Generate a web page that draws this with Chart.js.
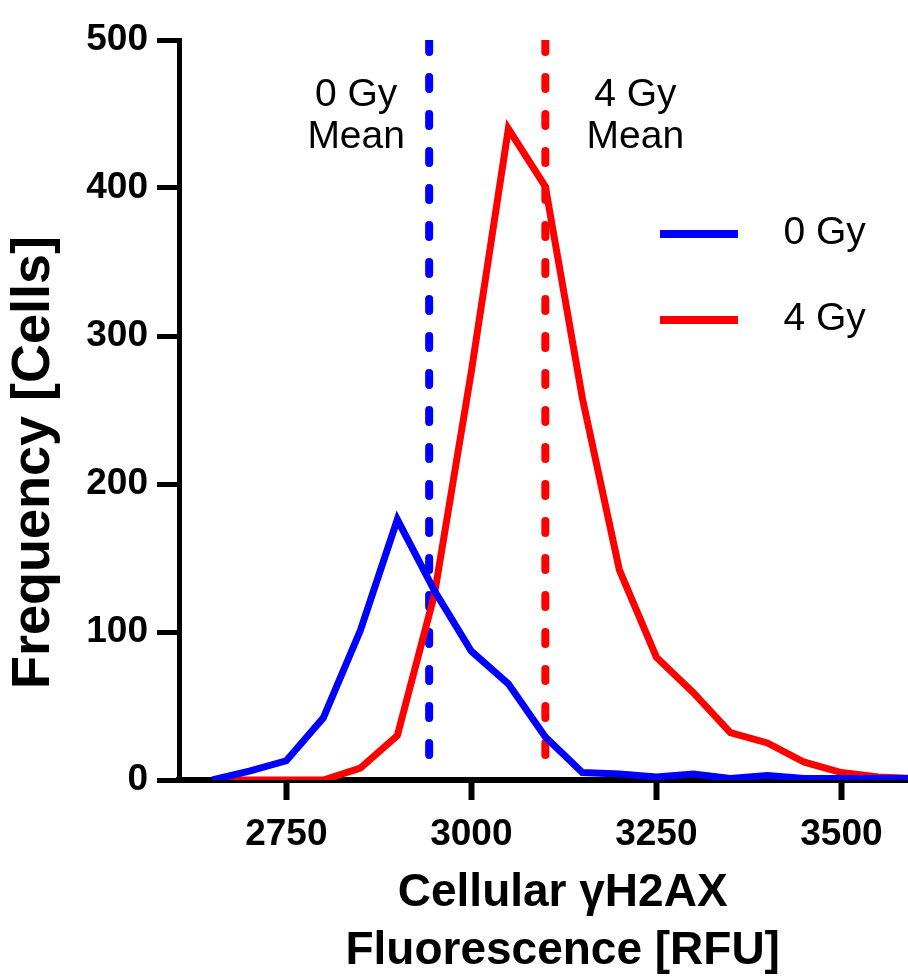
<!DOCTYPE html>
<html lang="en">
<head>
<meta charset="utf-8">
<title>Cellular γH2AX Fluorescence</title>
<script src="https://cdn.jsdelivr.net/npm/chart.js@4.4.1/dist/chart.umd.min.js"></script>
<style>
  html, body { margin: 0; padding: 0; background: #fff; }
  #caja { width: 908px; height: 980px; }
</style>
</head>
<body>
<div id="caja"><canvas id="graficoHistograma"></canvas></div>
<script>
/* ── DATOS DEL HISTOGRAMA ──
 Centro de cada intervalo (RFU) y número de células por intervalo. */
var binsRFU = [2650, 2700, 2750, 2800, 2850, 2900, 2950, 3000, 3050, 3100,
               3150, 3200, 3250, 3300, 3350, 3400, 3450, 3500, 3550, 3600];
var celulas0Gy = [0, 6, 13, 42, 101, 176, 128, 87, 65, 29,
                  5, 4, 2, 4, 1, 3, 1, 1, 1, 1];
var celulas4Gy = [0, 0, 0, 0, 8, 30, 125, 276, 440, 401,
                  258, 142, 83, 59, 32, 25, 12, 5, 2, 1];
/* Media de cada grupo y extremos (en células) de su línea punteada */
var mediaRFU = [2943, 3100];
var mediaExtremos = [500, 12];
/* Nombres y marcas de los ejes */
var nombresSeries = ['0 Gy', '4 Gy'];
var etiquetasMedia = [['0 Gy', 'Mean'], ['4 Gy', 'Mean']];
var ticksX = [2750, 3000, 3250, 3500];
var ticksY = [0, 100, 200, 300, 400, 500];

Chart.defaults.font.family = "'Liberation Sans', Arial, sans-serif";
Chart.defaults.color = '#000';

var AZUL = '#0000ff';
var ROJO = '#ff0000';

/* Une un array de x con uno de y en puntos {x, y} */
function aPuntos(xs, ys) {
    return xs.map(function (x, i) { return { x: x, y: ys[i] }; });
}

/* Línea vertical de la media, de arriba hacia abajo */
function lineaMedia(x) {
    return mediaExtremos.map(function (y) { return { x: x, y: y }; });
}

/* Muestra de la leyenda: trazo de 78 px con hueco a la derecha */
function muestraLeyenda(color) {
    var c = document.createElement('canvas');
    c.width = 104;
    c.height = 8;
    var g = c.getContext('2d');
    g.fillStyle = color;
    g.fillRect(0, 0, 78, 8);
    return c;
}

/* ── PLUGIN: textos "0 Gy / Mean" y "4 Gy / Mean" junto a cada media ── */
var textoMedias = {
    id: 'textoMedias',
    afterDatasetsDraw: function (chart) {
        var ctx = chart.ctx;
        var escalaX = chart.scales.x;
        var arriba = chart.chartArea.top;
        var desplaza = [-73, 90];
        ctx.save();
        ctx.font = "39px 'Liberation Sans', Arial, sans-serif";
        ctx.fillStyle = '#000';
        ctx.textAlign = 'center';
        ctx.textBaseline = 'middle';
        mediaRFU.forEach(function (m, i) {
            var px = escalaX.getPixelForValue(m) + desplaza[i];
            ctx.fillText(etiquetasMedia[i][0], px, arriba + 55);
            ctx.fillText(etiquetasMedia[i][1], px, arriba + 97);
        });
        ctx.restore();
    }
};

/* ── PLUGIN: coloca la leyenda dentro del área, a la derecha ── */
var moverLeyenda = {
    id: 'moverLeyenda',
    afterLayout: function (chart) {
        chart.legend.left = 613;
        chart.legend.top = 167;
    }
};

function crearHistograma() {
    var canvas = document.getElementById('graficoHistograma');
    new Chart(canvas, {
        type: 'line',
        data: {
            datasets: [
                {
                    label: nombresSeries[0],
                    data: aPuntos(binsRFU, celulas0Gy),
                    borderColor: AZUL,
                    backgroundColor: AZUL,
                    borderWidth: 7,
                    pointRadius: 0,
                    pointStyle: muestraLeyenda(AZUL),
                    tension: 0
                },
                {
                    label: nombresSeries[1],
                    data: aPuntos(binsRFU, celulas4Gy),
                    borderColor: ROJO,
                    backgroundColor: ROJO,
                    borderWidth: 7,
                    pointRadius: 0,
                    pointStyle: muestraLeyenda(ROJO),
                    tension: 0
                },
                {
                    label: 'media 0 Gy',
                    data: lineaMedia(mediaRFU[0]),
                    borderColor: AZUL,
                    borderWidth: 8,
                    borderDash: [12, 25],
                    borderCapStyle: 'round',
                    pointRadius: 0
                },
                {
                    label: 'media 4 Gy',
                    data: lineaMedia(mediaRFU[1]),
                    borderColor: ROJO,
                    borderWidth: 8,
                    borderDash: [12, 25],
                    borderCapStyle: 'round',
                    pointRadius: 0
                }
            ]
        },
        options: {
            responsive: true,
            maintainAspectRatio: false,
            animation: false,
            layout: { padding: { top: 40, right: 0, bottom: 0, left: 0 } },
            plugins: {
                tooltip: { enabled: false },
                legend: {
                    position: 'chartArea',
                    align: 'start',
                    labels: {
                        usePointStyle: true,
                        pointStyleWidth: 104,
                        padding: 47,
                        color: '#000',
                        font: { size: 39 },
                        filter: function (item) { return item.datasetIndex < 2; }
                    }
                }
            },
            scales: {
                x: {
                    type: 'linear',
                    min: 2605,
                    max: 3590,
                    afterBuildTicks: function (s) {
                        s.ticks = ticksX.map(function (v) { return { value: v }; });
                    },
                    afterFit: function (s) { s.height = 200; },
                    border: { display: true, color: '#000', width: 6 },
                    grid: { drawOnChartArea: false, tickLength: 20, tickWidth: 6, tickColor: '#000' },
                    ticks: {
                        color: '#000',
                        padding: 13,
                        font: { size: 37, weight: 'bold' },
                        callback: function (v) { return String(v); }
                    },
                    title: {
                        display: true,
                        /* espacios iniciales: el título va algo a la derecha del centro */
                        text: ['   Cellular γH2AX', '   Fluorescence [RFU]'],
                        color: '#000',
                        padding: 0,
                        font: { size: 46, weight: 'bold', lineHeight: 1.26 }
                    }
                },
                y: {
                    min: 0,
                    max: 500,
                    afterBuildTicks: function (s) {
                        s.ticks = ticksY.map(function (v) { return { value: v }; });
                    },
                    afterFit: function (s) { s.width = 179; },
                    border: { display: true, color: '#000', width: 5 },
                    grid: { drawOnChartArea: false, tickLength: 22, tickWidth: 5, tickColor: '#000' },
                    ticks: {
                        color: '#000',
                        padding: 9,
                        font: { size: 37, weight: 'bold' },
                        callback: function (v) { return String(v); }
                    },
                    title: {
                        display: true,
                        /* espacios finales: el texto queda algo por debajo del centro */
                        text: 'Frequency [Cells]       ',
                        color: '#000',
                        padding: { top: 2, bottom: 0 },
                        font: { size: 54, weight: 'bold' }
                    }
                }
            }
        },
        plugins: [textoMedias, moverLeyenda]
    });
}

crearHistograma();
</script>
</body>
</html>
